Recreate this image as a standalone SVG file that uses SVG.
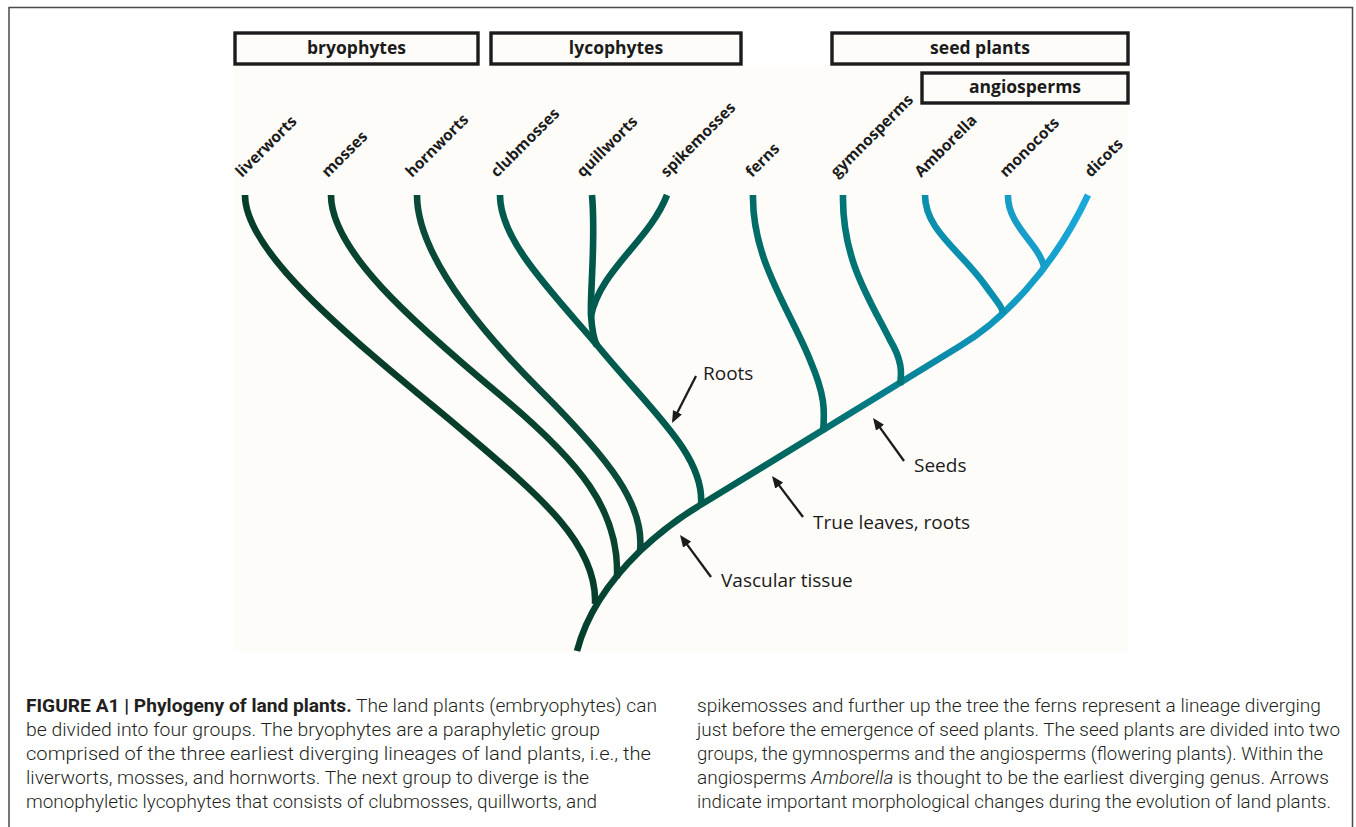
<svg xmlns="http://www.w3.org/2000/svg" width="1356" height="827" viewBox="0 0 1356 827">
<style>
.box rect{fill:#fdfcf8;stroke:#1b1b1b;stroke-width:3.4}
.box text{font-family:"Open Sans","Noto Sans",sans-serif;font-weight:700;font-size:17.5px;fill:#1b1b1b;text-anchor:middle}
.taxon{font-family:"Open Sans","Noto Sans",sans-serif;font-weight:700;font-size:15.5px;fill:#1b1b1b}
.br{fill:none;stroke-width:6.6;stroke-linecap:butt}
.arr{stroke:#1b1b1b;stroke-width:2.3;fill:none;marker-end:url(#ah)}
.lab{font-family:"Open Sans","Noto Sans",sans-serif;font-size:19px;fill:#1b1b1b}
.cap{font-family:Roboto,"Liberation Sans",sans-serif;font-weight:300;font-size:17.5px;fill:#231f20}
.cap .b{font-weight:700}
</style>
<defs>
<marker id="ah" markerUnits="userSpaceOnUse" viewBox="0 0 12 10" refX="9" refY="5" markerWidth="12" markerHeight="10" orient="auto">
<path d="M0,0 L12,5 L0,10 z" fill="#1b1b1b"/>
</marker>
<linearGradient id="trunkGrad" gradientUnits="userSpaceOnUse" x1="577" y1="0" x2="1088" y2="0">
<stop offset="0" stop-color="#063d2b"/>
<stop offset="0.24" stop-color="#005a4c"/>
<stop offset="0.48" stop-color="#006f6b"/>
<stop offset="0.7" stop-color="#0a8aa7"/>
<stop offset="1" stop-color="#19a9dc"/>
</linearGradient>
</defs>
<rect x="0" y="0" width="1356" height="827" fill="#ffffff"/>
<path d="M9,830 V7.5 H1352.5 V830" fill="none" stroke="#4a4a4a" stroke-width="1.5"/>
<rect x="233" y="65" width="895" height="587" fill="#fdfcf8"/>

<g id="group-bryophytes" class="box"><rect x="235" y="33" width="243" height="31"/><text x="356.5" y="54">bryophytes</text></g>
<g id="group-lycophytes" class="box"><rect x="491" y="33" width="250" height="31"/><text x="616" y="54">lycophytes</text></g>
<g id="group-seed-plants" class="box"><rect x="832" y="33" width="296" height="31"/><text x="980" y="54">seed plants</text></g>
<g id="group-angiosperms" class="box"><rect x="922" y="73" width="206" height="30"/><text x="1025" y="93">angiosperms</text></g>

<g id="connectors">
<path id="trunk" class="br" stroke="url(#trunkGrad)" d="M577,651 C585,620 605,585 640,551 C660,532 680,517 702,504 L960,346 C1000,322 1052,272 1088,195"/>
<path class="br" stroke="#063d2b" d="M245,195 C245,250 340,330 450,420 C530,488 598,540 595,604"/>
<path class="br" stroke="#08432f" d="M331,195 C331,250 410,320 500,395 C580,462 620,510 617,578"/>
<path class="br" stroke="#0a4a3a" d="M417,195 C417,250 470,320 540,390 C610,460 645,505 640,551"/>
<path class="br" stroke="#005a4d" d="M500,195 C500,240 550,290 597,345 C650,410 705,455 701,505"/>
<path class="br" stroke="#00584b" d="M592,195 C596,240 590,290 591,315 C592,330 594,340 597,346"/>
<path class="br" stroke="#005c50" d="M667,195 C650,240 600,270 591,316"/>
<path class="br" stroke="#006c68" d="M753,195 C752,260 790,310 810,360 C825,395 825,410 823,432"/>
<path class="br" stroke="#007575" d="M843,195 C842,260 870,300 890,340 C902,360 902,372 900,385"/>
<path class="br" stroke="#0b8fae" d="M925,195 C925,230 960,250 985,285 C998,303 1003,308 1003,314"/>
<path class="br" stroke="#169ec8" d="M1008,195 C1007,225 1040,245 1044,267"/>
<line class="arr" x1="696" y1="376" x2="673.4" y2="420.3"/>
<line class="arr" x1="904" y1="461" x2="874.8" y2="420.4"/>
<line class="arr" x1="803" y1="517" x2="773.8" y2="478.4"/>
<line class="arr" x1="711" y1="577" x2="681.8" y2="537.4"/>
</g>

<g id="taxon-liverworts"><text class="taxon" transform="translate(242,178) rotate(-45)">liverworts</text></g>
<g id="taxon-mosses"><text class="taxon" transform="translate(328,178) rotate(-45)">mosses</text></g>
<g id="taxon-hornworts"><text class="taxon" transform="translate(412,178) rotate(-45)">hornworts</text></g>
<g id="taxon-clubmosses"><text class="taxon" transform="translate(497,178) rotate(-45)">clubmosses</text></g>
<g id="taxon-quillworts"><text class="taxon" transform="translate(583,178) rotate(-45)">quillworts</text></g>
<g id="taxon-spikemosses"><text class="taxon" transform="translate(667,178) rotate(-45)">spikemosses</text></g>
<g id="taxon-ferns"><text class="taxon" transform="translate(752,178) rotate(-45)">ferns</text></g>
<g id="taxon-gymnosperms"><text class="taxon" transform="translate(837,178) rotate(-45)">gymnosperms</text></g>
<g id="taxon-amborella"><text class="taxon" transform="translate(921,178) rotate(-45)">Amborella</text></g>
<g id="taxon-monocots"><text class="taxon" transform="translate(1006,178) rotate(-45)">monocots</text></g>
<g id="taxon-dicots"><text class="taxon" transform="translate(1091,178) rotate(-45)">dicots</text></g>

<g id="label-roots"><text class="lab" x="703" y="380">Roots</text></g>
<g id="label-seeds"><text class="lab" x="914" y="472">Seeds</text></g>
<g id="label-true-leaves"><text class="lab" x="813" y="529">True leaves, roots</text></g>
<g id="label-vascular"><text class="lab" x="721" y="587">Vascular tissue</text></g>

<g id="caption">
<text class="cap" x="26" y="712" textLength="631" lengthAdjust="spacingAndGlyphs"><tspan class="b">FIGURE A1 | Phylogeny of land plants.</tspan> The land plants (embryophytes) can</text>
<text class="cap" x="26" y="736" textLength="574" lengthAdjust="spacingAndGlyphs">be divided into four groups. The bryophytes are a paraphyletic group</text>
<text class="cap" x="26" y="760" textLength="625" lengthAdjust="spacingAndGlyphs">comprised of the three earliest diverging lineages of land plants, i.e., the</text>
<text class="cap" x="26" y="784" textLength="563" lengthAdjust="spacingAndGlyphs">liverworts, mosses, and hornworts. The next group to diverge is the</text>
<text class="cap" x="26" y="808" textLength="571" lengthAdjust="spacingAndGlyphs">monophyletic lycophytes that consists of clubmosses, quillworts, and</text>
<text class="cap" x="697" y="712" textLength="624" lengthAdjust="spacingAndGlyphs">spikemosses and further up the tree the ferns represent a lineage diverging</text>
<text class="cap" x="697" y="736" textLength="643" lengthAdjust="spacingAndGlyphs">just before the emergence of seed plants. The seed plants are divided into two</text>
<text class="cap" x="697" y="760" textLength="626" lengthAdjust="spacingAndGlyphs">groups, the gymnosperms and the angiosperms (flowering plants). Within the</text>
<text class="cap" x="697" y="784" textLength="632" lengthAdjust="spacingAndGlyphs">angiosperms <tspan font-style="italic">Amborella</tspan> is thought to be the earliest diverging genus. Arrows</text>
<text class="cap" x="697" y="808" textLength="634" lengthAdjust="spacingAndGlyphs">indicate important morphological changes during the evolution of land plants.</text>
</g>
</svg>
